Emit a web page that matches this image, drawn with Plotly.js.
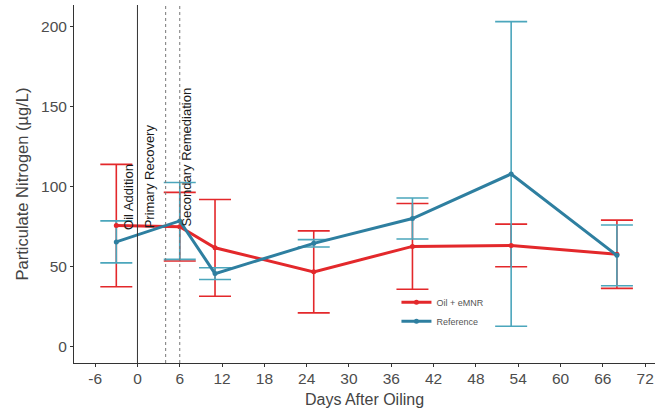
<!DOCTYPE html>
<html>
<head>
<meta charset="utf-8">
<script src="https://cdn.plot.ly/plotly-3.0.1.min.js"></script>
<style>html,body{margin:0;padding:0;background:#fff;}#chart{width:657px;height:416px;}</style>
</head>
<body>
<div id="chart"></div>
<script>
// Data
var days = [-3, 6, 11, 25, 39, 53, 68];
var emnrMean = [75.8, 75.1, 61.9, 46.9, 62.8, 63.4, 57.9];
var emnrErr  = [38.2, 21.4, 30.2, 25.6, 26.8, 13.3, 21.3];
var refMean  = [65.6, 78.7, 45.8, 64.7, 80.2, 108.0, 57.2];
var refErr   = [13.1, 24.0, 3.7, 2.3, 12.8, 95.1, 19.0];
var seriesNames = ['Oil + eMNR', 'Reference'];
var xTicks = [-6, 0, 6, 12, 18, 24, 30, 36, 42, 48, 54, 60, 66, 72];
var yTicks = [0, 50, 100, 150, 200];
var eventDays = [0, 4, 6];
var eventLabels = ['Oil Addition', 'Primary Recovery', 'Secondary Remediation'];

var red = '#e3282b';
var blueLine = '#2e7fa0';
var blueErr = '#4ba6bc';

var traces = [
  {x: days, y: emnrMean, type: 'scatter', mode: 'markers', showlegend: false, hoverinfo: 'skip',
   marker: {size: 1, color: 'rgba(0,0,0,0)'},
   error_y: {type: 'data', array: emnrErr, visible: true, color: red, thickness: 1.6, width: 16}},
  {x: days, y: refMean, type: 'scatter', mode: 'markers', showlegend: false, hoverinfo: 'skip',
   marker: {size: 1, color: 'rgba(0,0,0,0)'},
   error_y: {type: 'data', array: refErr, visible: true, color: blueErr, thickness: 1.6, width: 16}},
  {x: days, y: emnrMean, type: 'scatter', mode: 'lines+markers', name: seriesNames[0],
   line: {color: red, width: 3}, marker: {color: red, size: 5}},
  {x: days, y: refMean, type: 'scatter', mode: 'lines+markers', name: seriesNames[1],
   line: {color: blueLine, width: 3}, marker: {color: blueLine, size: 5}}
];

var shapes = eventDays.map(function (d, i) {
  return {type: 'line', xref: 'x', yref: 'paper', x0: d, x1: d, y0: 0, y1: 1,
    line: i === 0 ? {color: '#333', width: 1} : {color: '#777', width: 1, dash: '3px,3px'}};
});

var annX = [-1.2, 1.7, 6.9];
var annY = [93.7, 106.8, 118.3];
var annotations = eventLabels.map(function (t, i) {
  return {text: t, x: annX[i], y: annY[i], xref: 'x', yref: 'y', showarrow: false,
    textangle: -90, xanchor: 'center', yanchor: 'middle',
    font: {family: 'Liberation Sans, Arial, sans-serif', size: 13, color: '#1a1a1a'}};
});

var layout = {
  width: 657, height: 416,
  margin: {l: 74, r: 2, t: 5, b: 53},
  paper_bgcolor: '#fff', plot_bgcolor: '#fff',
  font: {family: 'Liberation Sans, Arial, sans-serif', color: '#4d4d4d'},
  showlegend: true,
  legend: {x: 0.555, y: 0.21, xanchor: 'left', yanchor: 'top', bgcolor: 'rgba(0,0,0,0)',
    font: {size: 9, color: '#555'}, itemwidth: 30, tracegroupgap: 0},
  xaxis: {range: [-9, 73.4], tickvals: xTicks, ticktext: xTicks.map(String),
    showgrid: false, zeroline: false, showline: true, linecolor: '#333', linewidth: 1,
    ticks: 'outside', ticklen: 3, tickcolor: '#333', ticklabelstandoff: -2,
    tickfont: {size: 15.5, color: '#4d4d4d'},
    title: {text: 'Days After Oiling', font: {size: 16, color: '#444'}, standoff: 8}},
  yaxis: {range: [-10, 213.5], tickvals: yTicks, ticktext: yTicks.map(String),
    showgrid: false, zeroline: false, showline: true, linecolor: '#333', linewidth: 1,
    ticks: 'outside', ticklen: 3, tickcolor: '#333', tickfont: {size: 15.5, color: '#4d4d4d'},
    title: {text: 'Particulate Nitrogen (µg/L)', font: {size: 16.5, color: '#444'}, standoff: 8}},
  shapes: shapes,
  annotations: annotations
};

Plotly.newPlot('chart', traces, layout, {staticPlot: true, displayModeBar: false});
</script>
</body>
</html>
